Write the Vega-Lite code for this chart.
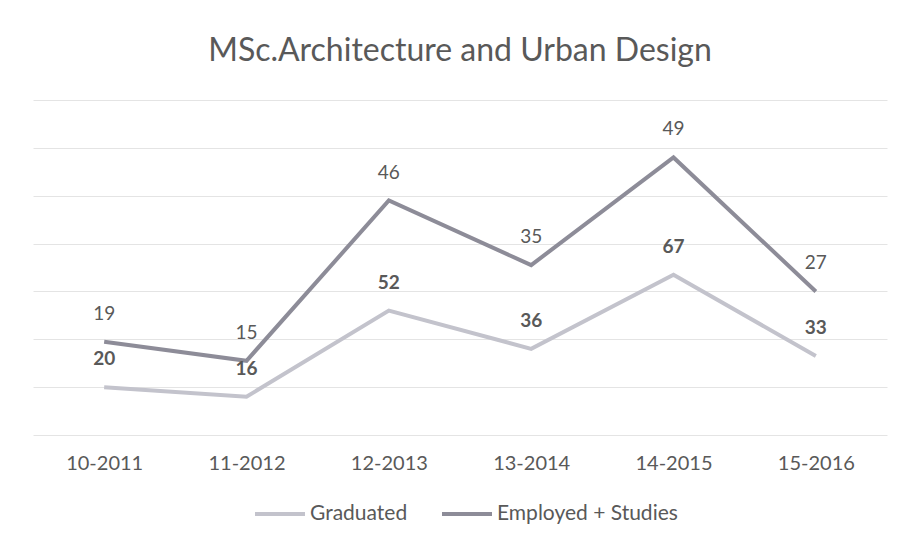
{
  "$schema": "https://vega.github.io/schema/vega-lite/v6.json",
  "width": 854,
  "height": 335,
  "autosize": "none",
  "padding": {"left": 33, "top": 100, "right": 12, "bottom": 111},
  "background": "white",
  "config": {"font": "Lato", "view": {"stroke": null}},
  "title": {
    "text": "MSc.Architecture and Urban Design",
    "fontSize": 32,
    "font": "Lato",
    "fontWeight": "normal",
    "color": "#595959",
    "offset": 32,
    "anchor": "middle"
  },
  "data": {
    "values": [
      {"year": "10-2011", "series": "Graduated", "value": 20},
      {"year": "11-2012", "series": "Graduated", "value": 16},
      {"year": "12-2013", "series": "Graduated", "value": 52},
      {"year": "13-2014", "series": "Graduated", "value": 36},
      {"year": "14-2015", "series": "Graduated", "value": 67},
      {"year": "15-2016", "series": "Graduated", "value": 33},
      {"year": "10-2011", "series": "Employed + Studies", "value": 19},
      {"year": "11-2012", "series": "Employed + Studies", "value": 15},
      {"year": "12-2013", "series": "Employed + Studies", "value": 46},
      {"year": "13-2014", "series": "Employed + Studies", "value": 35},
      {"year": "14-2015", "series": "Employed + Studies", "value": 49},
      {"year": "15-2016", "series": "Employed + Studies", "value": 27}
    ]
  },
  "transform": [
    {"stack": "value", "groupby": ["year"], "sort": [{"field": "series", "order": "descending"}], "as": ["y0", "y1"]}
  ],
  "encoding": {
    "x": {
      "field": "year", "type": "ordinal", "title": null,
      "scale": {"type": "point", "padding": 0.5},
      "axis": {"domain": false, "ticks": false, "labelAngle": 0, "labelFontSize": 20, "labelColor": "#595959", "labelPadding": 18, "labelFont": "Lato", "grid": false}
    },
    "y": {
      "field": "y1", "type": "quantitative", "title": null,
      "scale": {"domain": [0, 140], "nice": false, "zero": true},
      "axis": {"domain": false, "ticks": false, "labels": false, "grid": true, "gridColor": "#e4e4e4", "gridWidth": 1, "values": [0, 20, 40, 60, 80, 100, 120, 140]}
    },
    "color": {
      "field": "series", "type": "nominal", "title": null,
      "scale": {"domain": ["Graduated", "Employed + Studies"], "range": ["#c3c3cc", "#8d8c98"]},
      "legend": {
        "orient": "none", "legendX": 220, "legendY": 387, "direction": "horizontal",
        "symbolType": "stroke", "symbolSize": 2500, "symbolStrokeWidth": 4,
        "labelFontSize": 21, "labelColor": "#595959", "labelFont": "Lato",
        "labelLimit": 400, "columnPadding": 26, "labelOffset": 3
      }
    }
  },
  "layer": [
    {"mark": {"type": "line", "strokeWidth": 4}},
    {
      "mark": {"type": "text", "dy": -28, "fontSize": 19, "fontWeight": "bold", "color": "#595959"},
      "transform": [{"filter": "datum.series === 'Graduated'"}],
      "encoding": {"text": {"field": "value", "type": "quantitative"}, "color": {"value": "#595959"}}
    },
    {
      "mark": {"type": "text", "dy": -28, "fontSize": 19, "color": "#595959"},
      "transform": [{"filter": "datum.series === 'Employed + Studies'"}],
      "encoding": {"text": {"field": "value", "type": "quantitative"}, "color": {"value": "#595959"}}
    }
  ]
}
